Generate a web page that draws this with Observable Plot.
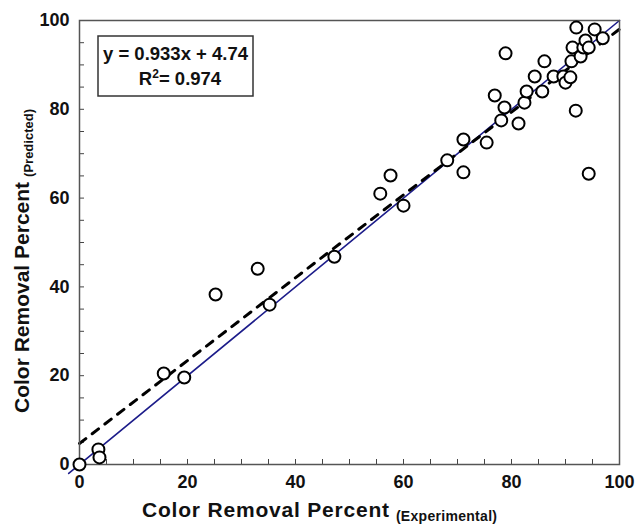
<!DOCTYPE html>
<html><head><meta charset="utf-8">
<script src="https://cdn.jsdelivr.net/npm/d3@7"></script>
<script src="https://cdn.jsdelivr.net/npm/@observablehq/plot@0.6"></script>
<style>body{margin:0;background:#fff;font-family:"Liberation Sans",Arial,sans-serif}</style>
</head><body><div id="chart"></div>
<script>
const experimental = [0, 3.5, 3.7, 15.6, 19.4, 25.2, 33.0, 35.2, 47.2, 55.7, 57.6, 60.0, 68.1, 71.1, 71.1, 75.4, 76.9, 78.1, 78.7, 78.9, 81.3, 82.4, 82.8, 84.3, 85.7, 86.1, 87.8, 89.6, 90.0, 90.9, 91.1, 91.3, 91.9, 92.0, 92.8, 93.3, 93.7, 94.3, 94.3, 95.4, 96.9];
const predicted    = [0, 3.4, 1.6, 20.5, 19.6, 38.3, 44.1, 36.0, 46.8, 61.0, 65.1, 58.3, 68.5, 73.2, 65.8, 72.5, 83.1, 77.5, 80.4, 92.6, 76.8, 81.5, 84.0, 87.4, 84.0, 90.8, 87.4, 87.4, 86.0, 87.2, 90.8, 93.9, 79.7, 98.4, 91.9, 93.9, 95.5, 65.5, 93.9, 98.0, 96.0];
// Reference line y = x
const idealX = [-2, 100];
const idealY = [-2, 100];
// Fitted line: y = 0.933x + 4.74
const fitX = [0, 100];
const fitY = [4.74, 98.04];
const majorTicks = [0, 20, 40, 60, 80, 100];
const minorTicks = [0,5,10,15,20,25,30,35,40,45,50,55,60,65,70,75,80,85,90,95,100];
const axisTitle = "Color Removal Percent";
const xSub = "(Experimental)";
const ySub = "(Predicted)";
const eqLine1 = "y = 0.933x + 4.74";
const eqR2 = "= 0.974";

const points = experimental.map((x, i) => ({x, y: predicted[i]}));
const ideal = idealX.map((x, i) => ({x, y: idealY[i]}));
const fit = fitX.map((x, i) => ({x, y: fitY[i]}));

const chart = Plot.plot({
  width: 636, height: 526,
  marginLeft: 79, marginRight: 17, marginTop: 20, marginBottom: 62,
  style: {fontFamily: "Liberation Sans, Arial, sans-serif", fontSize: "18px", fontWeight: "bold", color: "#111", background: "#fff"},
  x: {domain: [0, 100]},
  y: {domain: [0, 100]},
  marks: [
    Plot.axisX({ticks: minorTicks, tickSize: -5, tickFormat: () => "", stroke: "#444", label: null}),
    Plot.axisY({ticks: minorTicks, tickSize: -5, tickFormat: () => "", stroke: "#444", label: null}),
    Plot.axisX({ticks: majorTicks, tickSize: 0, tickPadding: 11, label: null, fill: "#111"}),
    Plot.axisY({ticks: majorTicks, tickSize: 0, tickPadding: 10, label: null, fill: "#111"}),
    Plot.line(ideal, {x: "x", y: "y", stroke: "#1c1c8a", strokeWidth: 1.6, clip: false}),
    Plot.line(fit, {x: "x", y: "y", stroke: "#000", strokeWidth: 3, strokeDasharray: "8,8"}),
    Plot.frame({stroke: "#555", strokeWidth: 1.5}),
    Plot.dot(points, {x: "x", y: "y", r: 6, stroke: "#000", strokeWidth: 2, fill: "#fff"})
  ]
});
document.getElementById("chart").appendChild(chart);

const svg = d3.select(chart);
// X axis title with subscript
const xt = svg.append("text").attr("x", 142).attr("y", 517).attr("text-anchor", "start").attr("font-size", 21).attr("letter-spacing", 0.8).attr("font-weight", "bold").attr("fill", "#111");
xt.append("tspan").text(axisTitle);
xt.append("tspan").attr("font-size", 14).attr("letter-spacing", 0.3).attr("dx", 6).attr("dy", 4).text(xSub);
// Y axis title with subscript
const yt = svg.append("text").attr("transform", "translate(29,413) rotate(-90)").attr("text-anchor", "start").attr("font-size", 21).attr("font-weight", "bold").attr("fill", "#111");
yt.append("tspan").text(axisTitle);
yt.append("tspan").attr("font-size", 13).attr("dx", 5).attr("dy", 4).text(ySub);
// Equation box
const g = svg.append("g");
g.append("rect").attr("x", 98).attr("y", 36).attr("width", 155).attr("height", 60).attr("fill", "#fff").attr("stroke", "#333").attr("stroke-width", 1.5);
g.append("text").attr("x", 175.5).attr("y", 60).attr("text-anchor", "middle").attr("font-size", 18.5).attr("font-weight", "bold").attr("fill", "#111").text(eqLine1);
const r2 = g.append("text").attr("x", 180).attr("y", 85).attr("text-anchor", "middle").attr("font-size", 18.5).attr("font-weight", "bold").attr("fill", "#111");
r2.append("tspan").text("R");
r2.append("tspan").attr("font-size", 12).attr("dy", -7).text("2");
r2.append("tspan").attr("dy", 7).text(eqR2);
</script>
</body></html>
